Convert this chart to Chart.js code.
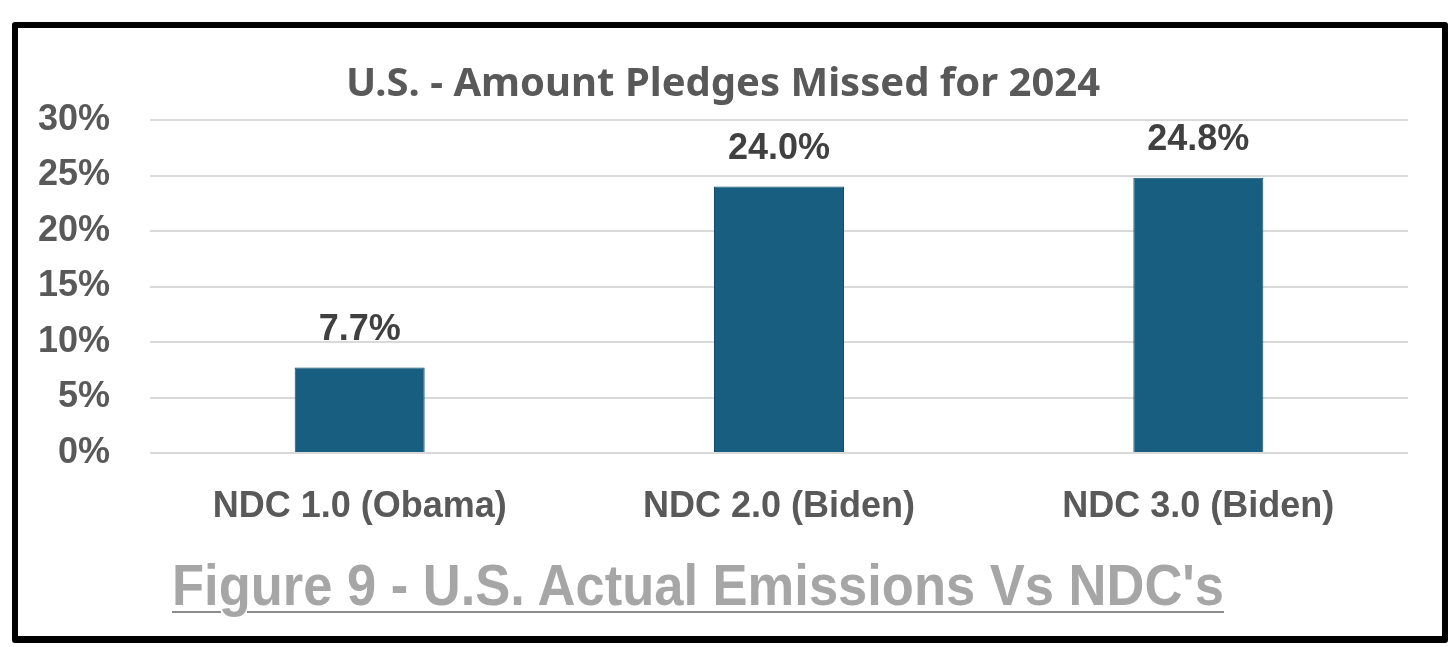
<!DOCTYPE html>
<html>
<head>
<meta charset="utf-8">
<script src="https://cdn.jsdelivr.net/npm/chart.js@4"></script>
<style>
  html, body { margin: 0; padding: 0; background: #fff; }
  #wrap { position: relative; width: 1456px; height: 647px; overflow: hidden; }
  #frame { position: absolute; left: 12px; top: 22px; width: 1424px; height: 608px; border: 6px solid #000; border-bottom-width: 7px; border-radius: 3px; pointer-events: none; }
  #chart { position: absolute; left: 0; top: 0; }
  #caption { position: absolute; left: 172px; top: 550px; font-family: "Liberation Sans", Arial, sans-serif; font-weight: bold; font-size: 57px; line-height: 70px; color: #a6a6a6; white-space: nowrap; text-decoration: underline; text-decoration-color: #8c8c8c; text-decoration-thickness: 2px; text-underline-offset: 6px; transform: scaleX(0.921); transform-origin: 0 0; }
</style>
</head>
<body>
<div id="wrap">
  <canvas id="chart" width="1456" height="647"></canvas>
  <div id="frame"></div>
  <div id="caption">Figure 9 - U.S. Actual Emissions Vs NDC's</div>
</div>
<script>
const categories = ['NDC 1.0 (Obama)', 'NDC 2.0 (Biden)', 'NDC 3.0 (Biden)'];
const missed_pct = [7.7, 24.0, 24.8];
const y_ticks = [0, 5, 10, 15, 20, 25, 30];

// value labels above bars
const barLabels = {
  id: 'barLabels',
  afterDatasetsDraw(chart) {
    const ctx = chart.ctx;
    const meta = chart.getDatasetMeta(0);
    ctx.save();
    ctx.font = 'bold 36px "Liberation Sans", Arial, sans-serif';
    ctx.fillStyle = '#404040';
    ctx.textAlign = 'center';
    ctx.textBaseline = 'alphabetic';
    meta.data.forEach((bar, i) => {
      ctx.fillText(missed_pct[i].toFixed(1) + '%', bar.x, bar.y - 28);
    });
    ctx.restore();
  }
};

const ctx = document.getElementById('chart');
new Chart(ctx, {
  type: 'bar',
  data: {
    labels: categories,
    datasets: [{
      data: missed_pct,
      backgroundColor: '#175e80',
      borderColor: '#124c68',
      borderWidth: 1,
      barPercentage: 0.31,
      categoryPercentage: 1.0
    }]
  },
  options: {
    responsive: false,
    animation: false,
    layout: { padding: { left: 38, right: 48, top: 61, bottom: 114 } },
    plugins: {
      legend: { display: false },
      tooltip: { enabled: false },
      title: {
        display: true,
        text: 'U.S. - Amount Pledges Missed for 2024',
        color: '#595959',
        font: { family: '"Noto Sans", sans-serif', size: 40, weight: 'bold', lineHeight: 1.2 },
        padding: { top: 0, bottom: 11 }
      }
    },
    scales: {
      y: {
        min: 0,
        max: 30,
        afterFit(scale) { scale.width = 112; },
        afterBuildTicks(scale) { scale.ticks = y_ticks.map(v => ({ value: v })); },
        border: { display: false },
        grid: { color: '#d9d9d9', lineWidth: 2, drawTicks: false },
        ticks: {
          padding: 40,
          color: '#595959',
          font: { family: '"Liberation Sans", Arial, sans-serif', size: 36, weight: 'bold' },
          callback: v => v + '%'
        }
      },
      x: {
        afterFit(scale) { scale.height = 80; },
        border: { display: false },
        grid: { display: false },
        ticks: {
          padding: 24,
          color: '#595959',
          font: { family: '"Liberation Sans", Arial, sans-serif', size: 36, weight: 'bold' }
        }
      }
    }
  },
  plugins: [barLabels]
});
</script>
</body>
</html>
